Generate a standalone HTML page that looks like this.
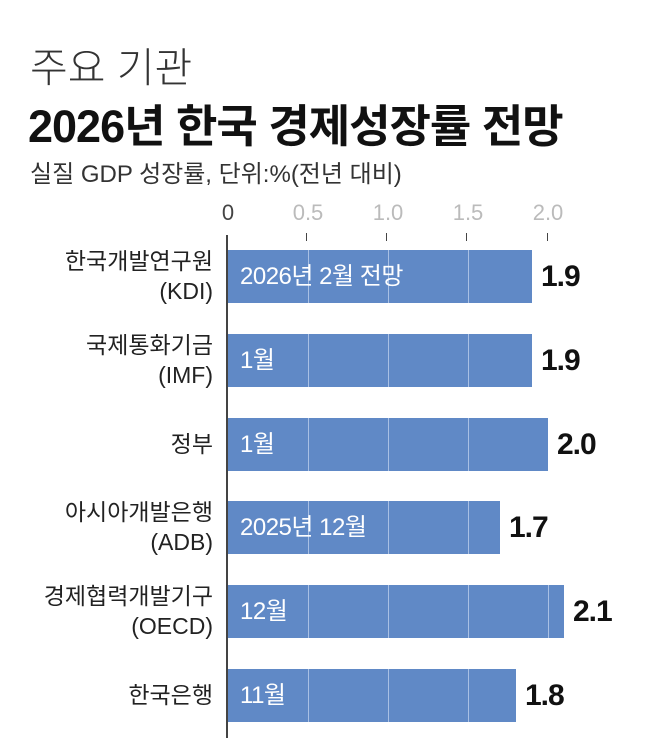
<!DOCTYPE html>
<html><head><meta charset="utf-8"><style>
body{margin:0;background:#fff;width:650px;height:755px;overflow:hidden;font-family:"Liberation Sans","Noto Sans CJK KR",sans-serif;position:relative;color:#111}
.a{position:absolute;white-space:nowrap}
.lab{position:absolute;right:437px;text-align:right;font-size:23px;line-height:30px;color:#222}
.bar{position:absolute;left:228px;height:53px;background:#6089c6}
.g{position:absolute;top:0;bottom:0;width:1px;background:#a9c0e4}
.bt{position:absolute;left:12px;top:0;line-height:53px;font-size:24px;color:#fff;letter-spacing:-0.5px}
.v{position:absolute;font-size:30px;font-weight:bold;line-height:53px;letter-spacing:-1px}
.t{position:absolute;top:200px;font-size:22px;color:#bbb;transform:translateX(-50%);font-weight:300}
.tk{position:absolute;top:233px;width:1px;height:8px;background:#444}
</style></head><body>
<div class="a" style="left:30px;top:34px;font-size:41px;color:#333;font-weight:300">주요 기관</div>
<div class="a" style="left:28px;top:90px;font-size:45px;font-weight:bold;letter-spacing:-1px">2026년 한국 경제성장률 전망</div>
<div class="a" style="left:30px;top:154px;font-size:24px;color:#333">실질 GDP 성장률, 단위:%(전년 대비)</div>
<div class="t" style="left:228px;color:#444">0</div>
<div class="t" style="left:308px">0.5</div>
<div class="t" style="left:388px">1.0</div>
<div class="t" style="left:468px">1.5</div>
<div class="t" style="left:548px">2.0</div>
<div class="tk" style="left:306px"></div><div class="tk" style="left:386px"></div><div class="tk" style="left:466px"></div><div class="tk" style="left:547px"></div>
<div class="a" style="left:226px;top:235px;width:2px;height:503px;background:#444"></div>

<div class="lab" style="top:246px">한국개발연구원<br>(KDI)</div>
<div class="bar" style="top:250px;width:304px"><div class="g" style="left:80px"></div><div class="g" style="left:160px"></div><div class="g" style="left:240px"></div><div class="bt">2026년 2월 전망</div></div>
<div class="v" style="left:541px;top:250px">1.9</div>

<div class="lab" style="top:330px">국제통화기금<br>(IMF)</div>
<div class="bar" style="top:334px;width:304px"><div class="g" style="left:80px"></div><div class="g" style="left:160px"></div><div class="g" style="left:240px"></div><div class="bt">1월</div></div>
<div class="v" style="left:541px;top:334px">1.9</div>

<div class="lab" style="top:429px">정부</div>
<div class="bar" style="top:418px;width:320px"><div class="g" style="left:80px"></div><div class="g" style="left:160px"></div><div class="g" style="left:240px"></div><div class="bt">1월</div></div>
<div class="v" style="left:557px;top:418px">2.0</div>

<div class="lab" style="top:497px">아시아개발은행<br>(ADB)</div>
<div class="bar" style="top:501px;width:272px"><div class="g" style="left:80px"></div><div class="g" style="left:160px"></div><div class="g" style="left:240px"></div><div class="bt">2025년 12월</div></div>
<div class="v" style="left:509px;top:501px">1.7</div>

<div class="lab" style="top:581px">경제협력개발기구<br>(OECD)</div>
<div class="bar" style="top:585px;width:336px"><div class="g" style="left:80px"></div><div class="g" style="left:160px"></div><div class="g" style="left:240px"></div><div class="g" style="left:320px"></div><div class="bt">12월</div></div>
<div class="v" style="left:573px;top:585px">2.1</div>

<div class="lab" style="top:680px">한국은행</div>
<div class="bar" style="top:669px;width:288px"><div class="g" style="left:80px"></div><div class="g" style="left:160px"></div><div class="g" style="left:240px"></div><div class="bt">11월</div></div>
<div class="v" style="left:525px;top:669px">1.8</div>
</body></html>
